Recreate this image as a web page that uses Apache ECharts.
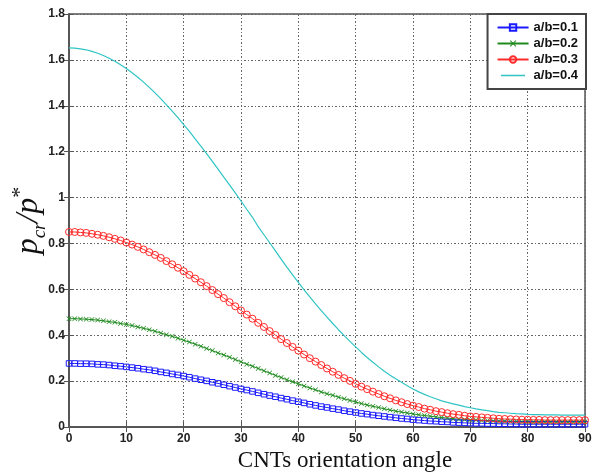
<!DOCTYPE html>
<html>
<head>
<meta charset="utf-8">
<script src="https://cdn.jsdelivr.net/npm/echarts@6/dist/echarts.min.js"></script>
<style>
  html, body { margin: 0; padding: 0; background: #fff; }
  #chart { width: 596px; height: 475px; }
</style>
</head>
<body>
<div id="chart"></div>
<script>
// orientation angle (deg)
const angles = [
  0, 1, 2, 3, 4, 5, 6, 7, 8, 9, 10, 11, 12, 13, 14, 15, 16, 17, 18, 19,
  20, 21, 22, 23, 24, 25, 26, 27, 28, 29, 30, 31, 32, 33, 34, 35, 36, 37, 38, 39,
  40, 41, 42, 43, 44, 45, 46, 47, 48, 49, 50, 51, 52, 53, 54, 55, 56, 57, 58, 59,
  60, 61, 62, 63, 64, 65, 66, 67, 68, 69, 70, 71, 72, 73, 74, 75, 76, 77, 78, 79,
  80, 81, 82, 83, 84, 85, 86, 87, 88, 89, 90
];

const seriesNames = ["a/b=0.1", "a/b=0.2", "a/b=0.3", "a/b=0.4"];

// p_cr / p*
const ab01 = [
  0.277, 0.277, 0.276, 0.276, 0.275, 0.273, 0.272, 0.270, 0.267, 0.265,
  0.262, 0.259, 0.256, 0.252, 0.249, 0.245, 0.240, 0.236, 0.231, 0.227,
  0.222, 0.217, 0.211, 0.206, 0.201, 0.195, 0.190, 0.184, 0.178, 0.172,
  0.166, 0.161, 0.155, 0.149, 0.143, 0.137, 0.132, 0.126, 0.121, 0.115,
  0.110, 0.105, 0.099, 0.094, 0.089, 0.085, 0.080, 0.076, 0.071, 0.067,
  0.063, 0.059, 0.056, 0.052, 0.049, 0.046, 0.043, 0.040, 0.037, 0.035,
  0.032, 0.030, 0.028, 0.026, 0.025, 0.023, 0.022, 0.020, 0.019, 0.018,
  0.017, 0.016, 0.016, 0.015, 0.015, 0.014, 0.014, 0.013, 0.013, 0.012,
  0.012, 0.012, 0.012, 0.012, 0.012, 0.012, 0.012, 0.012, 0.012, 0.012,
  0.012
];
const ab02 = [
  0.472, 0.472, 0.471, 0.470, 0.468, 0.466, 0.463, 0.459, 0.456, 0.451,
  0.447, 0.442, 0.436, 0.430, 0.424, 0.417, 0.410, 0.402, 0.395, 0.387,
  0.378, 0.370, 0.361, 0.352, 0.342, 0.333, 0.323, 0.314, 0.304, 0.294,
  0.284, 0.274, 0.265, 0.255, 0.245, 0.235, 0.225, 0.216, 0.206, 0.197,
  0.188, 0.179, 0.170, 0.162, 0.153, 0.145, 0.138, 0.130, 0.123, 0.116,
  0.109, 0.102, 0.096, 0.090, 0.085, 0.079, 0.074, 0.069, 0.065, 0.061,
  0.057, 0.053, 0.050, 0.047, 0.044, 0.041, 0.039, 0.036, 0.034, 0.033,
  0.031, 0.030, 0.028, 0.027, 0.026, 0.025, 0.025, 0.024, 0.024, 0.023,
  0.023, 0.022, 0.022, 0.022, 0.022, 0.022, 0.022, 0.022, 0.022, 0.022,
  0.022
];
const ab03 = [
  0.850, 0.850, 0.848, 0.846, 0.842, 0.838, 0.833, 0.827, 0.820, 0.813,
  0.804, 0.795, 0.785, 0.774, 0.762, 0.750, 0.737, 0.723, 0.709, 0.694,
  0.679, 0.663, 0.647, 0.631, 0.614, 0.597, 0.579, 0.562, 0.544, 0.526,
  0.508, 0.490, 0.472, 0.454, 0.436, 0.418, 0.401, 0.383, 0.366, 0.349,
  0.333, 0.316, 0.300, 0.285, 0.270, 0.255, 0.241, 0.227, 0.213, 0.201,
  0.188, 0.176, 0.165, 0.154, 0.144, 0.134, 0.125, 0.116, 0.108, 0.100,
  0.093, 0.087, 0.080, 0.075, 0.069, 0.065, 0.060, 0.056, 0.053, 0.049,
  0.046, 0.044, 0.042, 0.040, 0.038, 0.036, 0.035, 0.034, 0.033, 0.032,
  0.032, 0.031, 0.031, 0.030, 0.030, 0.030, 0.030, 0.030, 0.030, 0.030,
  0.030
];
const ab04 = [
  1.652, 1.651, 1.648, 1.644, 1.637, 1.629, 1.619, 1.607, 1.594, 1.579,
  1.562, 1.544, 1.524, 1.503, 1.480, 1.456, 1.431, 1.404, 1.377, 1.348,
  1.318, 1.288, 1.256, 1.224, 1.191, 1.158, 1.124, 1.089, 1.055, 1.020,
  0.985, 0.949, 0.914, 0.873, 0.838, 0.803, 0.768, 0.732, 0.697, 0.663,
  0.630, 0.598, 0.567, 0.537, 0.507, 0.479, 0.451, 0.424, 0.398, 0.373,
  0.349, 0.325, 0.303, 0.282, 0.262, 0.243, 0.226, 0.210, 0.195, 0.180,
  0.166, 0.153, 0.142, 0.132, 0.123, 0.114, 0.107, 0.101, 0.095, 0.089,
  0.084, 0.079, 0.075, 0.071, 0.067, 0.064, 0.062, 0.060, 0.058, 0.057,
  0.055, 0.054, 0.054, 0.053, 0.053, 0.053, 0.052, 0.052, 0.052, 0.052,
  0.052
];

const colors = ["#1a1aff", "#1e8a1e", "#ff2a2a", "#30c4c4"];
const crossPath = "path://M0,1L1,0L5,4L9,0L10,1L6,5L10,9L9,10L5,6L1,10L0,9L4,5Z";
// thin horizontal stroke used as legend icon for the marker-less series
const thinLine = "path://M0,0L0.01,0L0.01,0.01L0,0.01Z M0,4L30,4L30,6L0,6Z M0,10L0.01,10L0.01,10.01L0,10.01Z";

const chart = echarts.init(document.getElementById("chart"));

function pairs(vals) {
  return angles.map((a, i) => [a, vals[i]]);
}

const labelFont = {
  fontFamily: "Liberation Sans, Arial",
  fontWeight: "bold",
  fontSize: 12,
  color: "#222"
};
const gridDash = { color: "#666", width: 1, type: [2, 2, 1, 2] };

const option = {
  animation: false,
  backgroundColor: "#fff",
  color: colors,
  grid: {
    left: 69, right: 11, top: 14, bottom: 48,
    outerBoundsMode: "none",
    containLabel: false,
    show: true, borderColor: "#555", borderWidth: 1.5, backgroundColor: "#fff"
  },
  legend: {
    orient: "vertical",
    right: 10, top: 14,
    padding: [7, 8, 7, 9],
    itemGap: 3,
    itemWidth: 31,
    itemHeight: 8,
    backgroundColor: "#fff",
    borderColor: "#444",
    borderWidth: 2,
    borderRadius: 0,
    textStyle: { fontFamily: "Liberation Sans, Arial", fontWeight: "bold", fontSize: 13, color: "#111" },
    data: [
      { name: seriesNames[0] },
      { name: seriesNames[1] },
      { name: seriesNames[2] },
      { name: seriesNames[3], icon: thinLine, itemStyle: { color: colors[3] } }
    ]
  },
  xAxis: [
    {
      type: "value", min: 0, max: 90, interval: 10,
      name: "CNTs orientation angle",
      nameLocation: "middle",
      nameGap: 20,
      nameTextStyle: { fontFamily: "Liberation Serif, Times New Roman", fontSize: 23, color: "#111", padding: [0, 0, 0, 36] },
      axisLine: { lineStyle: { color: "#555", width: 1.5 } },
      axisTick: { inside: true, length: 5, lineStyle: { color: "#555" } },
      axisLabel: Object.assign({ margin: 6 }, labelFont),
      splitLine: { show: true, lineStyle: gridDash }
    },
    {
      type: "value", min: 0, max: 90, interval: 10, position: "top",
      axisLine: { lineStyle: { color: "#555", width: 1.5 } },
      axisTick: { inside: true, length: 5, lineStyle: { color: "#555" } },
      axisLabel: { show: false },
      splitLine: { show: false }
    }
  ],
  yAxis: [
    {
      type: "value", min: 0, max: 1.8, interval: 0.2,
      name: "{p|p}{sub|cr}{p|/p}{sup|*}",
      nameLocation: "middle",
      nameRotate: 90,
      nameGap: 20,
      nameMoveOverlap: false,
      nameTextStyle: {
        rich: {
          p: { fontFamily: "Liberation Serif, Times New Roman", fontStyle: "italic", fontSize: 32, lineHeight: 40, color: "#111" },
          sub: { fontFamily: "Liberation Serif, Times New Roman", fontStyle: "italic", fontSize: 19, verticalAlign: "bottom", color: "#111" },
          sup: { fontFamily: "Liberation Serif, Times New Roman", fontSize: 22, verticalAlign: "top", color: "#111" }
        }
      },
      axisLine: { show: true, lineStyle: { color: "#555", width: 1.5 } },
      axisTick: { show: true, inside: true, length: 5, lineStyle: { color: "#555" } },
      axisLabel: Object.assign({ margin: 4, formatter: (v) => String(+v.toFixed(1)) }, labelFont),
      splitLine: { show: true, lineStyle: gridDash }
    },
    {
      type: "value", min: 0, max: 1.8, interval: 0.2, position: "right",
      axisLine: { show: true, lineStyle: { color: "#555", width: 1.5 } },
      axisTick: { show: true, inside: true, length: 5, lineStyle: { color: "#555" } },
      axisLabel: { show: false },
      splitLine: { show: false }
    }
  ],
  series: [
    {
      name: seriesNames[0], type: "line", data: pairs(ab01),
      symbol: "rect", symbolSize: 5.5, showAllSymbol: true,
      lineStyle: { width: 1, color: colors[0] },
      itemStyle: { color: "rgba(255,255,255,0)", borderColor: colors[0], borderWidth: 1 }
    },
    {
      name: seriesNames[1], type: "line", data: pairs(ab02),
      symbol: crossPath, symbolSize: 5, showAllSymbol: true,
      lineStyle: { width: 1, color: colors[1] },
      itemStyle: { color: colors[1] }
    },
    {
      name: seriesNames[2], type: "line", data: pairs(ab03),
      symbol: "circle", symbolSize: 7, showAllSymbol: true,
      lineStyle: { width: 1, color: colors[2] },
      itemStyle: { color: "rgba(255,255,255,0)", borderColor: colors[2], borderWidth: 1 }
    },
    {
      name: seriesNames[3], type: "line", data: pairs(ab04),
      symbol: "none",
      lineStyle: { width: 1.2, color: colors[3] },
      itemStyle: { color: colors[3] }
    }
  ]
};

chart.setOption(option);
</script>
</body>
</html>
